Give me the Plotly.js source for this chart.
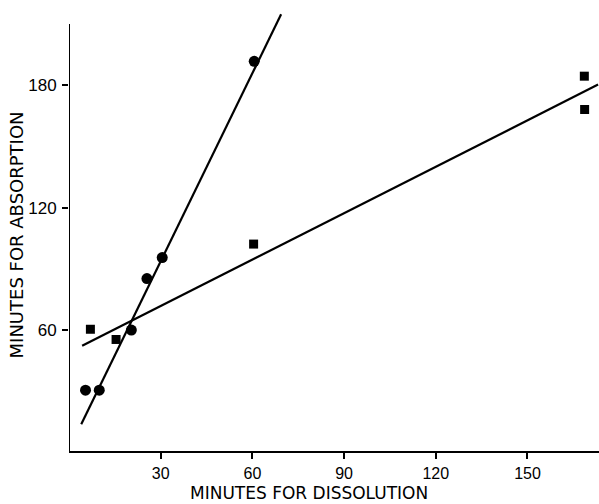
<!DOCTYPE html>
<html><head><meta charset="utf-8">
<script src="https://cdn.plot.ly/plotly-3.0.1.min.js"></script>
<style>html,body{margin:0;padding:0;background:#fff}#c{width:599px;height:504px}</style>
</head><body><div id="c"></div>
<script>
// Circles (first series)
const circleX = [5.4, 9.9, 20.4, 25.5, 30.5, 60.6];
const circleY = [30.8, 30.8, 60.2, 85.4, 95.7, 191.8];
// Squares (second series)
const squareX = [7.0, 15.4, 60.4, 168.6, 168.7];
const squareY = [60.6, 55.6, 102.3, 184.5, 168.2];
// Fitted lines (endpoints)
const lineAX = [4.0, 69.4];
const lineAY = [14.1, 214.8];
const lineBX = [4.3, 173.1];
const lineBY = [52.5, 180.4];
const xTicks = [30, 60, 90, 120, 150];
const yTicks = [60, 120, 180];

const traces = [
  {x: lineAX, y: lineAY, mode: 'lines', line: {color: '#000', width: 2.2}, hoverinfo: 'skip'},
  {x: lineBX, y: lineBY, mode: 'lines', line: {color: '#000', width: 2.2}, hoverinfo: 'skip'},
  {x: circleX, y: circleY, mode: 'markers', marker: {symbol: 'circle', size: 11, color: '#000'}},
  {x: squareX, y: squareY, mode: 'markers', marker: {symbol: 'square', size: 9, color: '#000'}}
];

const layout = {
  width: 599, height: 504,
  margin: {l: 69, r: 0, t: 10, b: 53},
  paper_bgcolor: '#fff', plot_bgcolor: '#fff',
  showlegend: false,
  font: {family: 'Liberation Sans, Arial, sans-serif', color: '#000'},
  xaxis: {
    range: [0, 173.4], tickvals: xTicks, ticktext: xTicks.map(String),
    showgrid: false, zeroline: false, showline: true, linecolor: '#000', linewidth: 2,
    ticks: 'outside', ticklen: 6, tickwidth: 2, tickcolor: '#000', ticklabelstandoff: 1,
    tickfont: {size: 16, family: 'Liberation Sans, Arial, sans-serif'}
  },
  yaxis: {
    range: [1, 216.9], tickvals: yTicks, ticktext: yTicks.map(String),
    showgrid: false, zeroline: false, showline: false,
    ticks: 'outside', ticklen: 6, tickwidth: 2, tickcolor: '#000', ticklabelstandoff: 2,
    tickfont: {size: 17, family: 'Liberation Sans, Arial, sans-serif'}
  },
  shapes: [
    {type: 'line', xref: 'x', yref: 'y', x0: 0, x1: 0, y0: 1, y1: 210, line: {color: '#000', width: 2}}
  ],
  annotations: [
    {text: 'MINUTES FOR DISSOLUTION', xref: 'paper', yref: 'paper', x: 0.453, y: -0.12, yanchor: 'bottom', xanchor: 'center',
     showarrow: false, borderpad: 0, font: {size: 17, family: 'DejaVu Sans, sans-serif', color: '#000'}},
    {text: 'MINUTES FOR ABSORPTION', xref: 'paper', yref: 'paper', x: -0.099, xanchor: 'center', y: 0.49, yanchor: 'middle',
     textangle: -90, showarrow: false, font: {size: 18, family: 'DejaVu Sans, sans-serif', color: '#000'}}
  ]
};
Plotly.newPlot('c', traces, layout, {displayModeBar: false, staticPlot: true});
</script></body></html>
